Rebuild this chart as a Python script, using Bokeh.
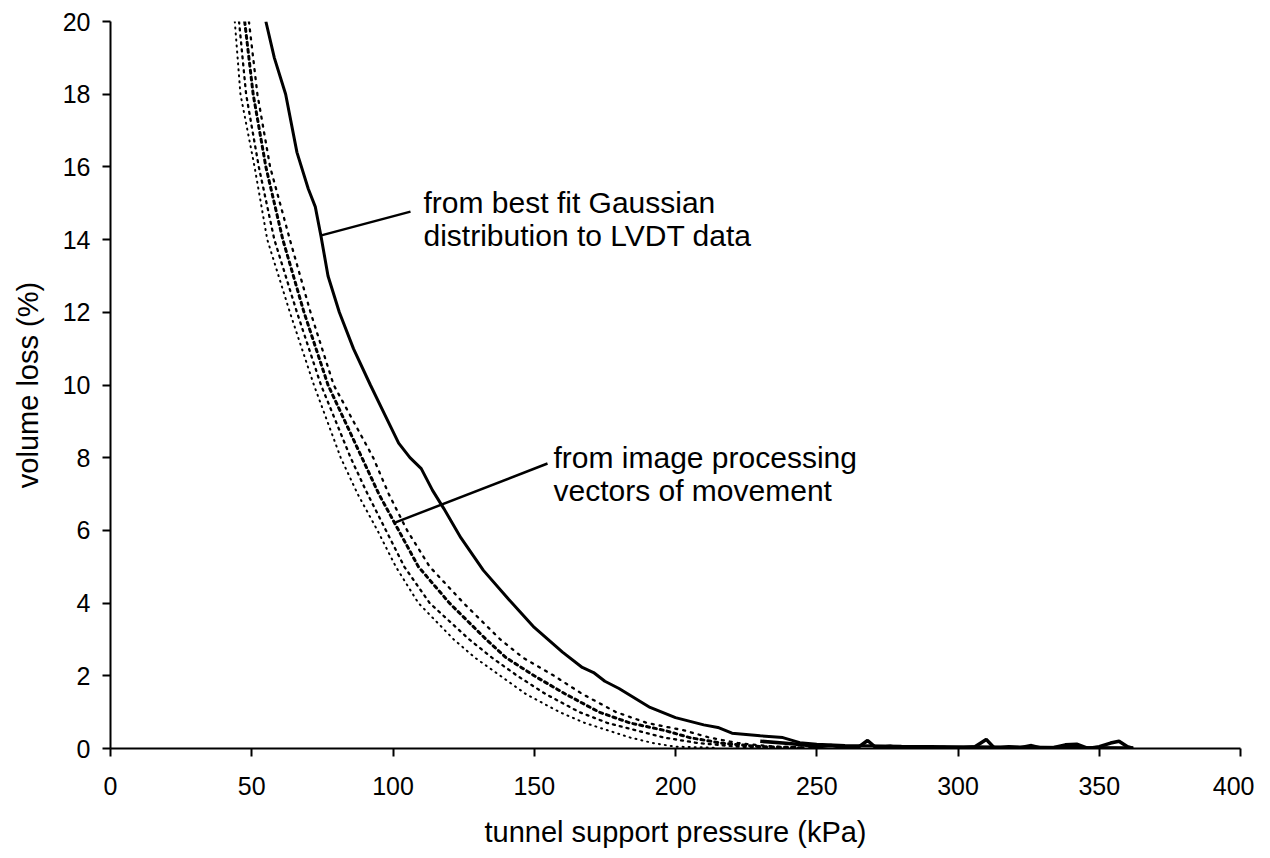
from bokeh.plotting import figure
from bokeh.models import Range1d, FixedTicker
from bokeh.core.properties import value
from bokeh.embed import file_html
from bokeh.resources import INLINE

# ---- data ----
x_ticks = [0, 50, 100, 150, 200, 250, 300, 350, 400]
y_ticks = [0, 2, 4, 6, 8, 10, 12, 14, 16, 18, 20]

# best-fit Gaussian (solid)
gauss_x = [55, 58, 62, 66, 70, 72.5, 74.5, 77, 81, 86, 92, 97, 102, 106, 110, 114,
           118, 124, 132, 141, 150, 160, 167, 171, 175, 180, 191, 200, 210, 215,
           220, 230, 238, 244, 250, 260, 280, 300, 320, 340, 362]
gauss_y = [20, 19, 18, 16.4, 15.4, 14.9, 14.1, 13, 12, 11, 10, 9.2, 8.4, 8.0, 7.7,
           7.1, 6.6, 5.8, 4.9, 4.1, 3.33, 2.65, 2.23, 2.09, 1.85, 1.65, 1.13, 0.85,
           0.65, 0.58, 0.42, 0.35, 0.3, 0.16, 0.12, 0.08, 0.06, 0.05, 0.04, 0.03, 0.02]

# image processing curves (dotted)
img_y = [20, 18, 16, 14, 12, 10, 8, 7, 6, 5, 4, 3, 2.5, 2, 1.5, 1, 0.7, 0.5, 0.3,
         0.15, 0.05, 0.02]
img1_x = [44, 46, 51, 55.5, 63.5, 72, 81.5, 87.5, 94.5, 101, 109, 121.5, 129, 138,
          147, 159, 168, 176, 184, 192, 200, 215]
img2_x = [45.5, 48, 52.5, 58, 66, 74.5, 85, 91, 97.5, 104, 113, 127, 135, 144, 154,
          166, 176, 186, 196, 208, 222, 235]
img3_x = [47.5, 50.5, 55, 61, 68.5, 77, 89, 95, 102, 109, 120, 133, 140, 150, 161,
          173, 184, 196, 205, 216, 230, 245]
img4_x = [49, 52, 56.5, 63.5, 70.8, 79, 93, 98.5, 105, 113, 125, 138, 146, 157, 167,
          179, 190, 203, 212, 222, 235, 250]

# noisy tail of the measurements near zero
tail_x = [230, 238, 245, 250, 255, 260, 265, 268, 271, 276, 280, 285, 290, 295, 299,
          302, 306, 310, 313, 318, 322, 326, 330, 334, 338, 342, 346, 350, 354, 357,
          360, 362]
tail_y = [0.2, 0.15, 0.1, 0.05, 0.08, 0.03, 0.05, 0.22, 0.02, 0.06, 0.0, 0.04, 0.01,
          0.03, 0.0, 0.02, 0.05, 0.25, 0.0, 0.05, 0.02, 0.08, 0.0, 0.03, 0.1, 0.12,
          0.0, 0.05, 0.15, 0.2, 0.05, 0.0]

FONT = "Liberation Sans"

p = figure(width=1254, height=852, output_backend="svg", toolbar_location=None,
           x_range=Range1d(0, 400), y_range=Range1d(0, 20),
           min_border_left=110, min_border_right=14, min_border_top=21,
           min_border_bottom=104)
p.outline_line_color = None
p.grid.visible = False
p.background_fill_color = "white"
p.border_fill_color = "white"

for ax in (p.xaxis[0], p.yaxis[0]):
    ax.axis_line_width = 2
    ax.axis_line_color = "black"
    ax.major_tick_line_width = 2
    ax.major_tick_line_color = "black"
    ax.major_tick_in = 0
    ax.major_tick_out = 8
    ax.minor_tick_line_color = None
    ax.major_label_text_font = FONT
    ax.major_label_text_font_size = "25px"
    ax.major_label_text_color = "black"
    ax.axis_label_text_font = FONT
    ax.axis_label_text_font_size = "29px"
    ax.axis_label_text_font_style = "normal"
    ax.axis_label_text_color = "black"

p.xaxis[0].ticker = FixedTicker(ticks=x_ticks)
p.yaxis[0].ticker = FixedTicker(ticks=y_ticks)
p.xaxis[0].axis_label = "tunnel support pressure (kPa)"
p.yaxis[0].axis_label = "volume loss (%)"
p.xaxis[0].major_label_standoff = 20
p.yaxis[0].major_label_standoff = 12
p.xaxis[0].axis_label_standoff = 18
p.yaxis[0].axis_label_standoff = 16

# dotted measurement curves
p.line(img1_x, img_y, line_color="black", line_width=2, line_dash="1 5", line_cap="round")
p.line(img2_x, img_y, line_color="black", line_width=2.3, line_dash="2 5", line_cap="round")
p.line(img3_x, img_y, line_color="black", line_width=3, line_dash="3 4", line_cap="round")
p.line(img4_x, img_y, line_color="black", line_width=2.3, line_dash="2 6", line_cap="round")
p.line(tail_x, tail_y, line_color="black", line_width=3.5)

# solid best fit
p.line(gauss_x, gauss_y, line_color="black", line_width=3)

# annotations
p.line([74.3, 106.2], [14.11, 14.77], line_color="black", line_width=2.5)
p.line([100.9, 154.7], [6.22, 7.84], line_color="black", line_width=2.5)

ann = dict(text_font=value(FONT), text_font_size="30px", text_color="black",
           text_align="left", text_baseline="alphabetic")
p.text(x=[110.8], y=[15.02], text=["from best fit Gaussian"], **ann)
p.text(x=[110.8], y=[14.11], text=["distribution to LVDT data"], **ann)
p.text(x=[156.8], y=[8.0], text=["from image processing"], **ann)
p.text(x=[156.8], y=[7.10], text=["vectors of movement"], **ann)

open("out.html", "w").write(file_html(p, INLINE))
